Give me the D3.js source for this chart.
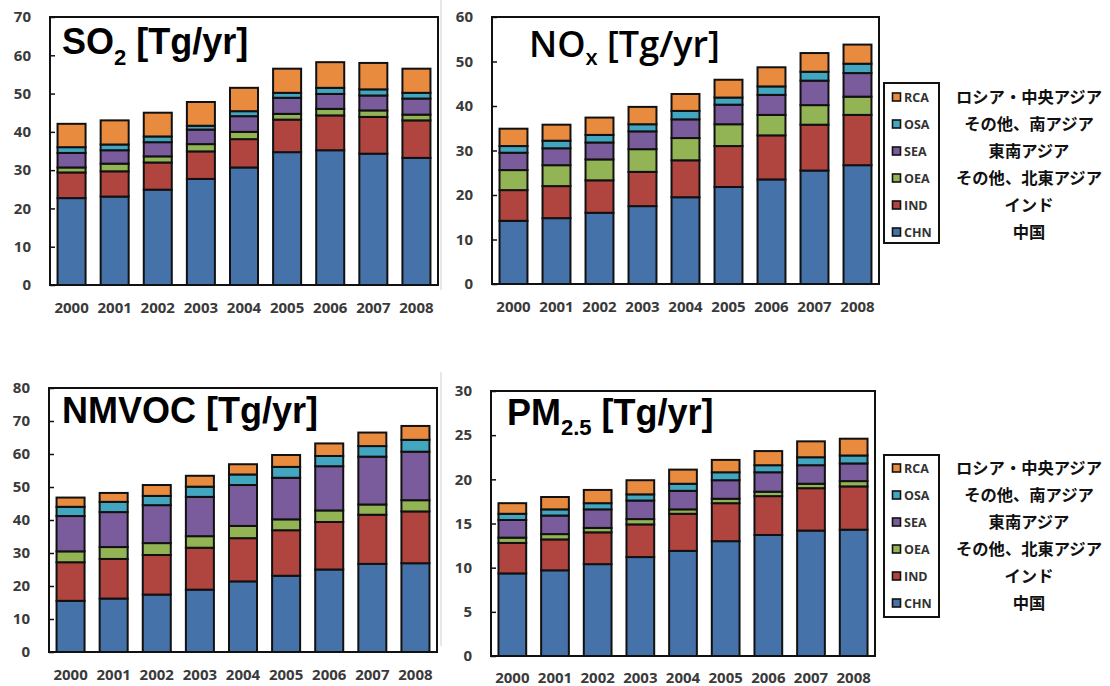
<!DOCTYPE html>
<html><head><meta charset="utf-8">
<script src="https://cdn.jsdelivr.net/npm/d3@7"></script>
<style>body{margin:0;background:#fff}svg{display:block}</style>
</head><body>
<svg id="c" width="1110" height="686"></svg>
<script>
// ---------- data ----------
const years = ["2000","2001","2002","2003","2004","2005","2006","2007","2008"];
const regions = ["CHN","IND","OEA","SEA","OSA","RCA"];
const legendOrder = ["RCA","OSA","SEA","OEA","IND","CHN"];
const legendJa = ["ロシア・中央アジア","その他、南アジア","東南アジア","その他、北東アジア","インド","中国"];

const so2_CHN = [22.7,23.1,24.9,27.7,30.7,34.7,35.2,34.3,33.2];
const so2_IND = [6.7,6.6,7.1,7.2,7.4,8.5,9.1,9.6,9.8];
const so2_OEA = [1.3,2.0,1.6,1.9,1.9,1.5,1.7,1.7,1.5];
const so2_SEA = [3.8,3.5,3.7,3.8,4.1,4.2,3.9,3.9,4.2];
const so2_OSA = [1.5,1.5,1.5,1.0,1.3,1.3,1.6,1.6,1.5];
const so2_RCA = [6.1,6.3,6.2,6.2,6.1,6.3,6.7,6.9,6.3];

const nox_CHN = [14.2,14.8,16.0,17.5,19.5,21.8,23.5,25.5,26.7];
const nox_IND = [6.9,7.2,7.3,7.7,8.3,9.2,9.9,10.3,11.3];
const nox_OEA = [4.5,4.7,4.7,5.1,5.0,4.9,4.6,4.4,4.1];
const nox_SEA = [3.9,3.8,3.8,4.0,4.2,4.4,4.5,5.5,5.3];
const nox_OSA = [1.5,1.7,1.7,1.6,1.9,1.6,1.9,2.0,2.1];
const nox_RCA = [3.9,3.6,3.9,3.9,3.8,4.0,4.3,4.2,4.3];

const nmvoc_CHN = [15.5,16.2,17.4,18.9,21.4,23.1,25.0,26.7,26.9];
const nmvoc_IND = [11.7,12.0,12.0,12.7,13.1,13.8,14.4,14.9,15.7];
const nmvoc_OEA = [3.3,3.6,3.6,3.5,3.7,3.3,3.5,3.1,3.4];
const nmvoc_SEA = [10.7,10.6,11.5,11.9,12.4,12.6,13.4,14.5,14.7];
const nmvoc_OSA = [2.8,3.1,2.8,3.1,3.2,3.3,3.1,3.2,3.6];
const nmvoc_RCA = [2.8,2.7,3.3,3.3,3.1,3.6,3.8,4.1,4.2];

const pm_CHN = [9.35,9.7,10.4,11.2,11.9,13.0,13.7,14.2,14.3];
const pm_IND = [3.45,3.5,3.6,3.7,4.2,4.3,4.4,4.8,4.9];
const pm_OEA = [0.6,0.6,0.5,0.6,0.5,0.5,0.5,0.5,0.6];
const pm_SEA = [2.0,2.1,2.1,2.1,2.1,2.1,2.2,2.1,2.0];
const pm_OSA = [0.7,0.7,0.7,0.7,0.8,0.9,0.8,0.9,0.9];
const pm_RCA = [1.2,1.4,1.5,1.6,1.6,1.4,1.6,1.8,1.9];

const so2Ticks = [0,10,20,30,40,50,60,70];
const noxTicks = [0,10,20,30,40,50,60];
const nmvocTicks = [0,10,20,30,40,50,60,70,80];
const pmTicks = [0,5,10,15,20,25,30];

// ---------- styles ----------
const colors = {CHN:"#4572a9",IND:"#b0443f",OEA:"#93b455",SEA:"#7a5b9b",OSA:"#43a6c0",RCA:"#e98b3f"};
const numFont = "'Open Sans', sans-serif";
const svg = d3.select("#c");

function tableOf(series){
  return years.map((y,i)=>{const o={year:y}; regions.forEach(r=>o[r]=series[r][i]); return o;});
}

const panels = [
  {series:{CHN:so2_CHN,IND:so2_IND,OEA:so2_OEA,SEA:so2_SEA,OSA:so2_OSA,RCA:so2_RCA}, ticks:so2Ticks,
   box:{l:50,t:17,r:438,b:285}, yearY:308, title:{x:62,y:54,main:"SO",sub:"2",rest:" [Tg/yr]",dy:11,font:"'Liberation Sans', Arial, sans-serif",w:700}},
  {series:{CHN:nox_CHN,IND:nox_IND,OEA:nox_OEA,SEA:nox_SEA,OSA:nox_OSA,RCA:nox_RCA}, ticks:noxTicks,
   box:{l:492,t:17,r:879,b:284}, yearY:306.5, title:{x:529,y:57,main:"NO",sub:"x",rest:" [Tg/yr]",dy:8,font:"'Open Sans', sans-serif",w:600}},
  {series:{CHN:nmvoc_CHN,IND:nmvoc_IND,OEA:nmvoc_OEA,SEA:nmvoc_SEA,OSA:nmvoc_OSA,RCA:nmvoc_RCA}, ticks:nmvocTicks,
   box:{l:49,t:388,r:437,b:652}, yearY:675, title:{x:62,y:423,main:"NMVOC",sub:"",rest:" [Tg/yr]",dy:0,font:"'Liberation Sans', Arial, sans-serif",w:700}},
  {series:{CHN:pm_CHN,IND:pm_IND,OEA:pm_OEA,SEA:pm_SEA,OSA:pm_OSA,RCA:pm_RCA}, ticks:pmTicks,
   box:{l:491,t:391,r:875,b:656}, yearY:677.5, title:{x:507,y:425,main:"PM",sub:"2.5",rest:" [Tg/yr]",dy:10,font:"'Liberation Sans', Arial, sans-serif",w:700}}
];

// faint separator lines (scan artefact in reference)
svg.append("line").attr("x1",441).attr("x2",441).attr("y1",0).attr("y2",290).attr("stroke","#d8d8d8").attr("stroke-width",1.2);
svg.append("line").attr("x1",441).attr("x2",441).attr("y1",372).attr("y2",646).attr("stroke","#d8d8d8").attr("stroke-width",1.2);

panels.forEach(p=>{
  const b=p.box;
  const x=d3.scaleBand().domain(years).range([b.l,b.r]).paddingInner(0.35).paddingOuter(0.175);
  const y=d3.scaleLinear().domain([0,d3.max(p.ticks)]).range([b.b,b.t]);
  const g=svg.append("g");
  const stacked=d3.stack().keys(regions)(tableOf(p.series));
  g.selectAll("g.layer").data(stacked).join("g").attr("class","layer")
    .attr("fill",d=>colors[d.key])
    .selectAll("rect").data(d=>d).join("rect")
    .attr("x",d=>x(d.data.year)).attr("width",x.bandwidth())
    .attr("y",d=>y(d[1])).attr("height",d=>y(d[0])-y(d[1]))
    .attr("stroke","#111").attr("stroke-width",2);
  // frame
  g.append("rect").attr("x",b.l).attr("y",b.t).attr("width",b.r-b.l).attr("height",b.b-b.t)
    .attr("fill","none").attr("stroke","#111").attr("stroke-width",2);
  // y axis (ticks inward)
  const ya=d3.axisLeft(y).tickValues(p.ticks).tickSize(-5).tickPadding(19).tickFormat(d3.format("d"));
  const yg=g.append("g").attr("transform",`translate(${b.l},0)`).call(ya);
  yg.select(".domain").remove();
  yg.selectAll(".tick line").attr("stroke","#111").attr("stroke-width",1.5);
  yg.selectAll("text").attr("font-family",numFont).attr("font-weight",700).attr("font-size",15).attr("fill","#3a3a3a");
  // x labels
  const xa=d3.axisBottom(x).tickSize(0).tickPadding(0);
  const xg=g.append("g").attr("transform",`translate(0,${p.yearY})`).call(xa);
  xg.select(".domain").remove();
  xg.selectAll("text").attr("font-family",numFont).attr("font-weight",700).attr("font-size",15).attr("fill","#3a3a3a").attr("dy","0.36em");
  // title
  const t=p.title;
  const tt=g.append("text").attr("x",t.x).attr("y",t.y).attr("font-family",t.font).attr("font-weight",t.w)
    .attr("font-size",36).attr("fill","#000");
  tt.append("tspan").text(t.main);
  if(t.sub){ tt.append("tspan").attr("font-size",22).attr("dy",t.dy).text(t.sub);
             tt.append("tspan").attr("dy",-t.dy).text(t.rest); }
  else tt.append("tspan").text(t.rest);
});

// legends
[{top:83,bottom:243,first:97},{top:455,bottom:617,first:468}].forEach(L=>{
  const g=svg.append("g");
  g.append("rect").attr("x",884).attr("y",L.top).attr("width",55).attr("height",L.bottom-L.top)
    .attr("fill","#fff").attr("stroke","#111").attr("stroke-width",2);
  const ly=d3.scalePoint().domain(legendOrder).range([L.first,L.first+27*5]);
  legendOrder.forEach((k,i)=>{
    g.append("rect").attr("x",892.5).attr("y",ly(k)-4).attr("width",8).attr("height",8)
      .attr("fill",colors[k]).attr("stroke","#111").attr("stroke-width",1.6);
    g.append("text").attr("x",904).attr("y",ly(k)).attr("dy","0.36em").attr("font-family",numFont)
      .attr("font-weight",700).attr("font-size",12.5).attr("fill","#333").text(k);
    g.append("text").attr("x",1029).attr("y",ly(k)).attr("dy","0.36em").attr("text-anchor","middle")
      .attr("font-family","'Noto Sans CJK JP', sans-serif").attr("font-weight",700).attr("font-size",16.3)
      .attr("fill","#111").text(legendJa[i]);
  });
});
</script>
</body></html>
